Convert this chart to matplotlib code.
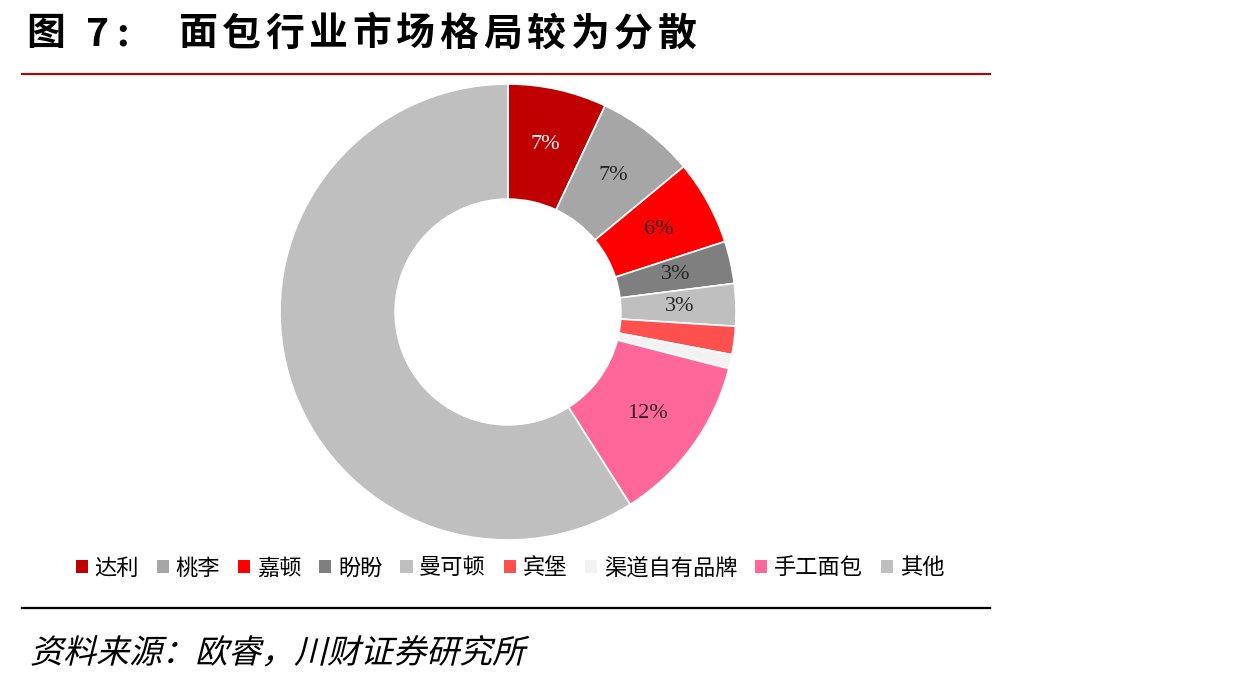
import numpy as np
import matplotlib.pyplot as plt
from matplotlib.lines import Line2D
from matplotlib.textpath import TextPath
from matplotlib.patches import PathPatch
from matplotlib.font_manager import FontProperties
from matplotlib.transforms import Affine2D, IdentityTransform

plt.rcParams['font.family'] = ['Noto Sans CJK SC', 'DejaVu Sans']

brands = ["达利", "桃李", "嘉顿", "盼盼", "曼可顿", "宾堡", "渠道自有品牌", "手工面包", "其他"]
shares = [7, 7, 6, 3, 3, 2, 1, 12, 59]
colors = ["#C00000", "#A6A6A6", "#FF0000", "#7F7F7F", "#BFBFBF",
          "#FF5050", "#F2F2F2", "#FF6699", "#BFBFBF"]
show_label = [True, True, True, True, True, False, False, True, False]
label_colors = ["white", "#262626", "#262626", "#262626", "#262626",
                "#262626", "#262626", "#262626", "#262626"]

W, H = 1233, 679
fig = plt.figure(figsize=(W / 100, H / 100), dpi=100)

# donut axes, centre at (508, 312) px, outer radius 228 px
cx, cy, half = 508, 312, 232
ax = fig.add_axes([(cx - half) / W, (H - cy - half) / H, 2 * half / W, 2 * half / H])
ax.pie(shares, colors=colors, startangle=90, counterclock=False, radius=1.0,
       wedgeprops=dict(width=0.505, edgecolor="white", linewidth=1.2))
lim = half / 228
ax.set_xlim(-lim, lim)
ax.set_ylim(-lim, lim)
ax.set_aspect("equal")
ax.axis("off")

cum = np.cumsum([0] + shares)
for i, v in enumerate(shares):
    if not show_label[i]:
        continue
    mid = 90 - (cum[i] + v / 2) / 100 * 360
    r = 0.755
    ax.text(r * np.cos(np.radians(mid)), r * np.sin(np.radians(mid)), f"{v}%",
            ha="center", va="center", fontsize=16, family="Liberation Serif",
            color=label_colors[i])

# title, spaced characters
ty = 1 - 34 / H
fig.text(26 / W, ty, "图", fontsize=28, fontweight="bold", ha="left", va="center")
fig.text(86 / W, ty, "7", fontsize=28, fontweight="bold", ha="left", va="center")
fig.text(123 / W, ty, ":", fontsize=28, fontweight="bold", ha="center", va="center")
title = "面包行业市场格局较为分散"
for k, ch in enumerate(title):
    fig.text((178 + k * 43.6) / W, ty, ch, fontsize=28, fontweight="bold",
             ha="left", va="center")

fig.add_artist(Line2D([22 / W, 990 / W], [1 - 74 / H, 1 - 74 / H], color="#C00000", lw=1.5))
fig.add_artist(Line2D([22 / W, 990 / W], [1 - 608 / H, 1 - 608 / H], color="black", lw=1.6))

# legend
handles = [plt.Rectangle((0, 0), 1, 1, facecolor=c) for c in colors]
fig.legend(handles, brands, loc="center", bbox_to_anchor=(510 / W, 1 - 568 / H), ncol=9,
           frameon=False, fontsize=16, handlelength=0.55, handleheight=0.55,
           handletextpad=0.3, columnspacing=0.8)

# slanted source note (glyph path with a shear, to mimic the italic)
src = "资料来源：欧睿，川财证券研究所"
tp = TextPath((0, 0), src, size=33, prop=FontProperties(family="Noto Sans CJK SC"))
tr = Affine2D().skew_deg(14, 0).translate(30, H - 663)
fig.add_artist(PathPatch(tr.transform_path(tp), facecolor="black", edgecolor="none",
                         transform=IdentityTransform()))

fig.savefig("out.png", dpi=100)
